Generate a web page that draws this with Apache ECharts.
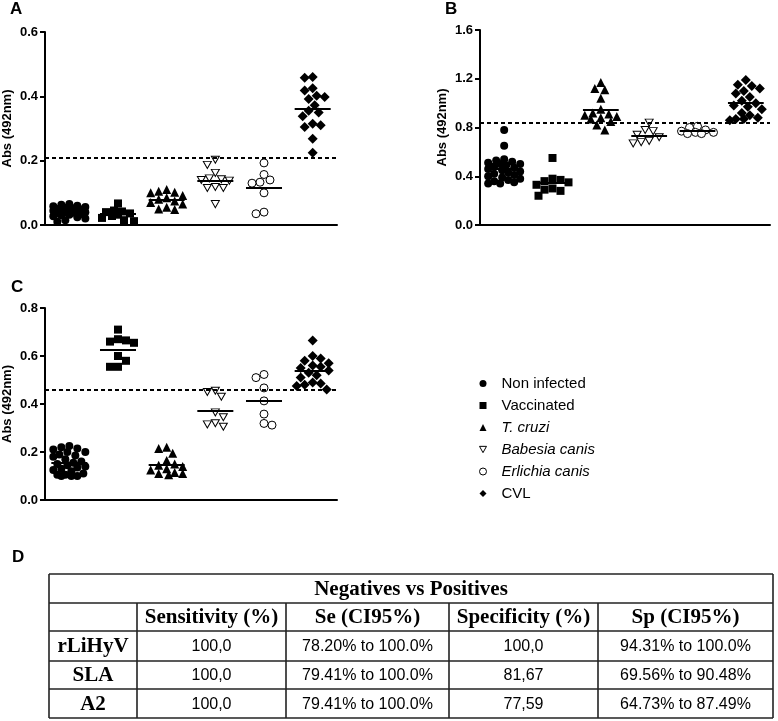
<!DOCTYPE html>
<html><head><meta charset="utf-8">
<script src="https://cdn.jsdelivr.net/npm/echarts@6/dist/echarts.min.js"></script>
<style>html,body{margin:0;padding:0;background:#fff}#c{width:778px;height:721px}</style>
</head><body><div id="c"></div>
<script>
// ---------- DATA ----------
const groups = ['Non infected','Vaccinated','T. cruzi','Babesia canis','Erlichia canis','CVL'];
const italicGroups = ['T. cruzi','Babesia canis','Erlichia canis'];

// Panel A (rLiHyV)
const A_nonInfected = [0.065,0.063,0.06,0.058,0.056,0.054,0.052,0.05,0.048,0.046,0.045,0.044,0.042,0.04,0.04,0.038,0.036,0.034,0.032,0.03,0.027,0.024,0.02,0.015,0.01];
const A_vaccinated  = [0.067,0.045,0.042,0.04,0.036,0.032,0.028,0.022,0.015,0.012];
const A_tCruzi      = [0.11,0.105,0.102,0.1,0.092,0.085,0.08,0.075,0.07,0.065,0.055,0.05,0.048];
const A_babesia     = [0.203,0.187,0.162,0.145,0.142,0.14,0.138,0.118,0.115,0.115,0.065];
const A_erlichia    = [0.193,0.157,0.14,0.133,0.13,0.1,0.04,0.035];
const A_cvl         = [0.46,0.458,0.425,0.418,0.402,0.398,0.392,0.372,0.355,0.35,0.338,0.315,0.31,0.305,0.268,0.225];

// Panel B (SLA)
const B_nonInfected = [0.78,0.65,0.54,0.53,0.52,0.51,0.5,0.5,0.49,0.48,0.47,0.46,0.45,0.44,0.43,0.42,0.41,0.4,0.39,0.38,0.37,0.36,0.35,0.34,0.34];
const B_vaccinated  = [0.55,0.38,0.37,0.36,0.35,0.33,0.3,0.29,0.28,0.24];
const B_tCruzi      = [1.17,1.12,1.11,1.04,0.95,0.92,0.91,0.9,0.89,0.88,0.87,0.85,0.82,0.78];
const B_babesia     = [0.84,0.78,0.77,0.74,0.72,0.69,0.68,0.67];
const B_erlichia    = [0.81,0.8,0.78,0.77,0.76,0.76,0.75,0.75];
const B_cvl         = [1.19,1.15,1.14,1.12,1.1,1.08,1.05,1.02,1.0,0.98,0.97,0.95,0.92,0.9,0.88,0.87,0.87,0.86];

// Panel C (A2)
const C_nonInfected = [0.225,0.22,0.215,0.21,0.2,0.2,0.19,0.185,0.18,0.17,0.16,0.155,0.15,0.145,0.14,0.135,0.13,0.125,0.12,0.11,0.105,0.105,0.1,0.1,0.1];
const C_vaccinated  = [0.71,0.67,0.665,0.66,0.655,0.6,0.58,0.555,0.555];
const C_tCruzi      = [0.22,0.215,0.195,0.165,0.15,0.145,0.14,0.13,0.125,0.115,0.11,0.11,0.105];
const C_babesia     = [0.455,0.45,0.43,0.365,0.345,0.32,0.315,0.305];
const C_erlichia    = [0.523,0.51,0.467,0.413,0.358,0.319,0.312];
const C_cvl         = [0.665,0.6,0.59,0.58,0.57,0.56,0.555,0.55,0.54,0.53,0.52,0.51,0.49,0.485,0.48,0.475,0.46];

const cutoffs = [0.212, 0.845, 0.455];
const yMax = [0.6, 1.6, 0.8];
const yInterval = [0.2, 0.4, 0.2];
const panelLetters = ['A','B','C','D'];
const yTitle = 'Abs (492nm)';

// Table (panel D)
const tableTitle = 'Negatives vs Positives';
const colHeaders = ['', 'Sensitivity (%)', 'Se (CI95%)', 'Specificity (%)', 'Sp (CI95%)'];
const rowLabels = ['rLiHyV','SLA','A2'];
const sensitivity = ['100,0','100,0','100,0'];
const seCI = ['78.20% to 100.0%','79.41% to 100.0%','79.41% to 100.0%'];
const specificity = ['100,0','81,67','77,59'];
const spCI = ['94.31% to 100.0%','69.56% to 90.48%','64.73% to 87.49%'];

// ---------- LAYOUT / STYLE ----------
const panelValues = [
  [A_nonInfected,A_vaccinated,A_tCruzi,A_babesia,A_erlichia,A_cvl],
  [B_nonInfected,B_vaccinated,B_tCruzi,B_babesia,B_erlichia,B_cvl],
  [C_nonInfected,C_vaccinated,C_tCruzi,C_babesia,C_erlichia,C_cvl]
];
const grids = [
  {left:45, top:32, width:292, height:193},
  {left:480, top:30, width:290, height:195},
  {left:45, top:308, width:292, height:192}
];
const invTri = 'path://M0,0 L10,0 L5,9 Z';
const symbolStyles = [
  {symbol:'circle', symbolSize:8, itemStyle:{color:'#000', opacity:1}},
  {symbol:'rect', symbolSize:8, itemStyle:{color:'#000', opacity:1}},
  {symbol:'triangle', symbolSize:9, itemStyle:{color:'#000', opacity:1}},
  {symbol:invTri, symbolSize:[8,7], itemStyle:{color:'#fff', borderColor:'#000', borderWidth:1, opacity:1}},
  {symbol:'circle', symbolSize:8, itemStyle:{color:'#fff', borderColor:'#000', borderWidth:1, opacity:1}},
  {symbol:'diamond', symbolSize:10, itemStyle:{color:'#000', opacity:1}}
];
const legendIcons = [
  {icon:'circle', itemStyle:{color:'#000'}},
  {icon:'rect', itemStyle:{color:'#000'}},
  {icon:'triangle', itemStyle:{color:'#000'}},
  {icon:invTri, itemStyle:{color:'#fff', borderColor:'#000', borderWidth:1}},
  {icon:'circle', itemStyle:{color:'#fff', borderColor:'#000', borderWidth:1}},
  {icon:'diamond', itemStyle:{color:'#000'}}
];

function mean(a){ return a.reduce((s,v)=>s+v,0)/a.length; }

// deterministic beeswarm: offsets (px) so dots do not pile up
function swarm(vals, pxY){
  const D = 8, step = 2, cap = 16;
  const cands = [0];
  for (let k = step; k <= cap; k += step){ cands.push(k, -k); }
  const order = vals.map((v,i)=>i).sort((a,b)=>vals[b]-vals[a]);
  const placed = [], offs = new Array(vals.length).fill(0);
  order.forEach((i, n) => {
    const y = vals[i]*pxY;
    let best = 0, bestD = -1, chosen = null;
    const alt = n % 2 ? -1 : 1;
    for (const c0 of cands){
      const c = c0*alt;
      let md = Infinity;
      for (const p of placed){ md = Math.min(md, Math.hypot(p.x-c, p.y-y)); }
      if (md >= D){ chosen = c; break; }
      if (md > bestD){ bestD = md; best = c; }
    }
    const x = chosen === null ? best : chosen;
    placed.push({x, y}); offs[i] = x;
  });
  return offs;
}

const axisFont = 'Liberation Sans';
const xAxes = [], yAxes = [], series = [];
grids.forEach((g, pi) => {
  xAxes.push({type:'value', gridIndex:pi, min:0.5, max:6.5,
    axisLine:{show:true, onZero:false, lineStyle:{color:'#000', width:2}},
    axisTick:{show:false}, axisLabel:{show:false}, splitLine:{show:false}});
  yAxes.push({type:'value', gridIndex:pi, min:0, max:yMax[pi], interval:yInterval[pi],
    axisLine:{show:true, lineStyle:{color:'#000', width:2}},
    axisTick:{show:true, length:5, lineStyle:{color:'#000', width:2}},
    axisLabel:{color:'#000', fontFamily:axisFont, fontWeight:'bold', fontSize:13, margin:7,
      formatter: v => v.toFixed(1)},
    splitLine:{show:false},
    name: yTitle, nameLocation:'middle', nameGap:31,
    nameTextStyle:{color:'#000', fontFamily:axisFont, fontWeight:'bold', fontSize:13}});
  const pxX = g.width/6, pxY = g.height/yMax[pi];
  panelValues[pi].forEach((vals, gi) => {
    const offs = swarm(vals, pxY);
    const m = mean(vals);
    const mlData = [[{coord:[gi+1-0.37, m]},{coord:[gi+1+0.37, m]}]];
    if (gi === 0) mlData.unshift({yAxis:cutoffs[pi], lineStyle:{type:[4,3], width:2, color:'#000'}});
    series.push(Object.assign({
      type:'scatter', name:groups[gi], xAxisIndex:pi, yAxisIndex:pi,
      data: vals.map((v,k)=>[gi+1+offs[k]/pxX, v]),
      z:3, emphasis:{disabled:true},
      markLine:{silent:true, symbol:'none', label:{show:false}, animation:false,
        emphasis:{disabled:true},
        lineStyle:{color:'#000', width:2, type:'solid'}, data:mlData}
    }, symbolStyles[gi]));
  });
});

// graphics: panel letters + table
const graphics = [];
const letterPos = [[10,10],[445,10],[11,288],[12,558]];
panelLetters.forEach((L,i)=>{
  graphics.push({type:'text', left:letterPos[i][0], top:letterPos[i][1]-9,
    style:{text:L, font:'bold 17px "Liberation Sans"', fill:'#000'}});
});
const colX = [49,137,286,449,598,773];
const rowY = [574,603,631,661,689,718];
const lineC = '#222', lw = 1.6;
rowY.forEach(y => graphics.push({type:'line', shape:{x1:colX[0], y1:y, x2:colX[5], y2:y}, style:{stroke:lineC, lineWidth:lw}}));
graphics.push({type:'line', shape:{x1:colX[0], y1:rowY[0], x2:colX[0], y2:rowY[5]}, style:{stroke:lineC, lineWidth:lw}});
graphics.push({type:'line', shape:{x1:colX[5], y1:rowY[0], x2:colX[5], y2:rowY[5]}, style:{stroke:lineC, lineWidth:lw}});
for (let c = 1; c < 5; c++){
  graphics.push({type:'line', shape:{x1:colX[c], y1:rowY[1], x2:colX[c], y2:rowY[5]}, style:{stroke:lineC, lineWidth:lw}});
}
const serifBold = 'bold 21px "Liberation Serif"';
const sansReg = '16px "Liberation Sans"';
function cell(text, c0, c1, r, font){
  graphics.push({type:'text', x:(colX[c0]+colX[c1])/2, y:(rowY[r]+rowY[r+1])/2+1,
    style:{text, font, fill:'#000', textAlign:'center', textVerticalAlign:'middle'}});
}
cell(tableTitle, 0, 5, 0, serifBold);
colHeaders.forEach((h,c)=>{ if (h) cell(h, c, c+1, 1, serifBold); });
rowLabels.forEach((r,i)=>{
  cell(r, 0, 1, i+2, serifBold);
  cell(sensitivity[i], 1, 2, i+2, sansReg);
  cell(seCI[i], 2, 3, i+2, sansReg);
  cell(specificity[i], 3, 4, i+2, sansReg);
  cell(spCI[i], 4, 5, i+2, sansReg);
});

const chart = echarts.init(document.getElementById('c'), null, {renderer:'canvas'});
chart.setOption({
  animation:false,
  backgroundColor:'#fff',
  grid: grids,
  xAxis: xAxes,
  yAxis: yAxes,
  legend:{
    orient:'vertical', left:474, top:371, itemWidth:7, itemHeight:7, itemGap:7,
    data: groups.map((n,i)=>Object.assign({name:n}, legendIcons[i])), selectedMode:false,
    formatter: n => italicGroups.includes(n) ? '{i|'+n+'}' : '{n|'+n+'}',
    textStyle:{color:'#000', fontFamily:axisFont, fontSize:15,
      rich:{
        n:{fontFamily:axisFont, fontSize:15, color:'#000', padding:[0,0,0,10], lineHeight:15},
        i:{fontFamily:axisFont, fontSize:15, color:'#000', fontStyle:'italic', padding:[0,0,0,10], lineHeight:15}
      }}
  },
  graphic: graphics,
  series: series
});
</script></body></html>
